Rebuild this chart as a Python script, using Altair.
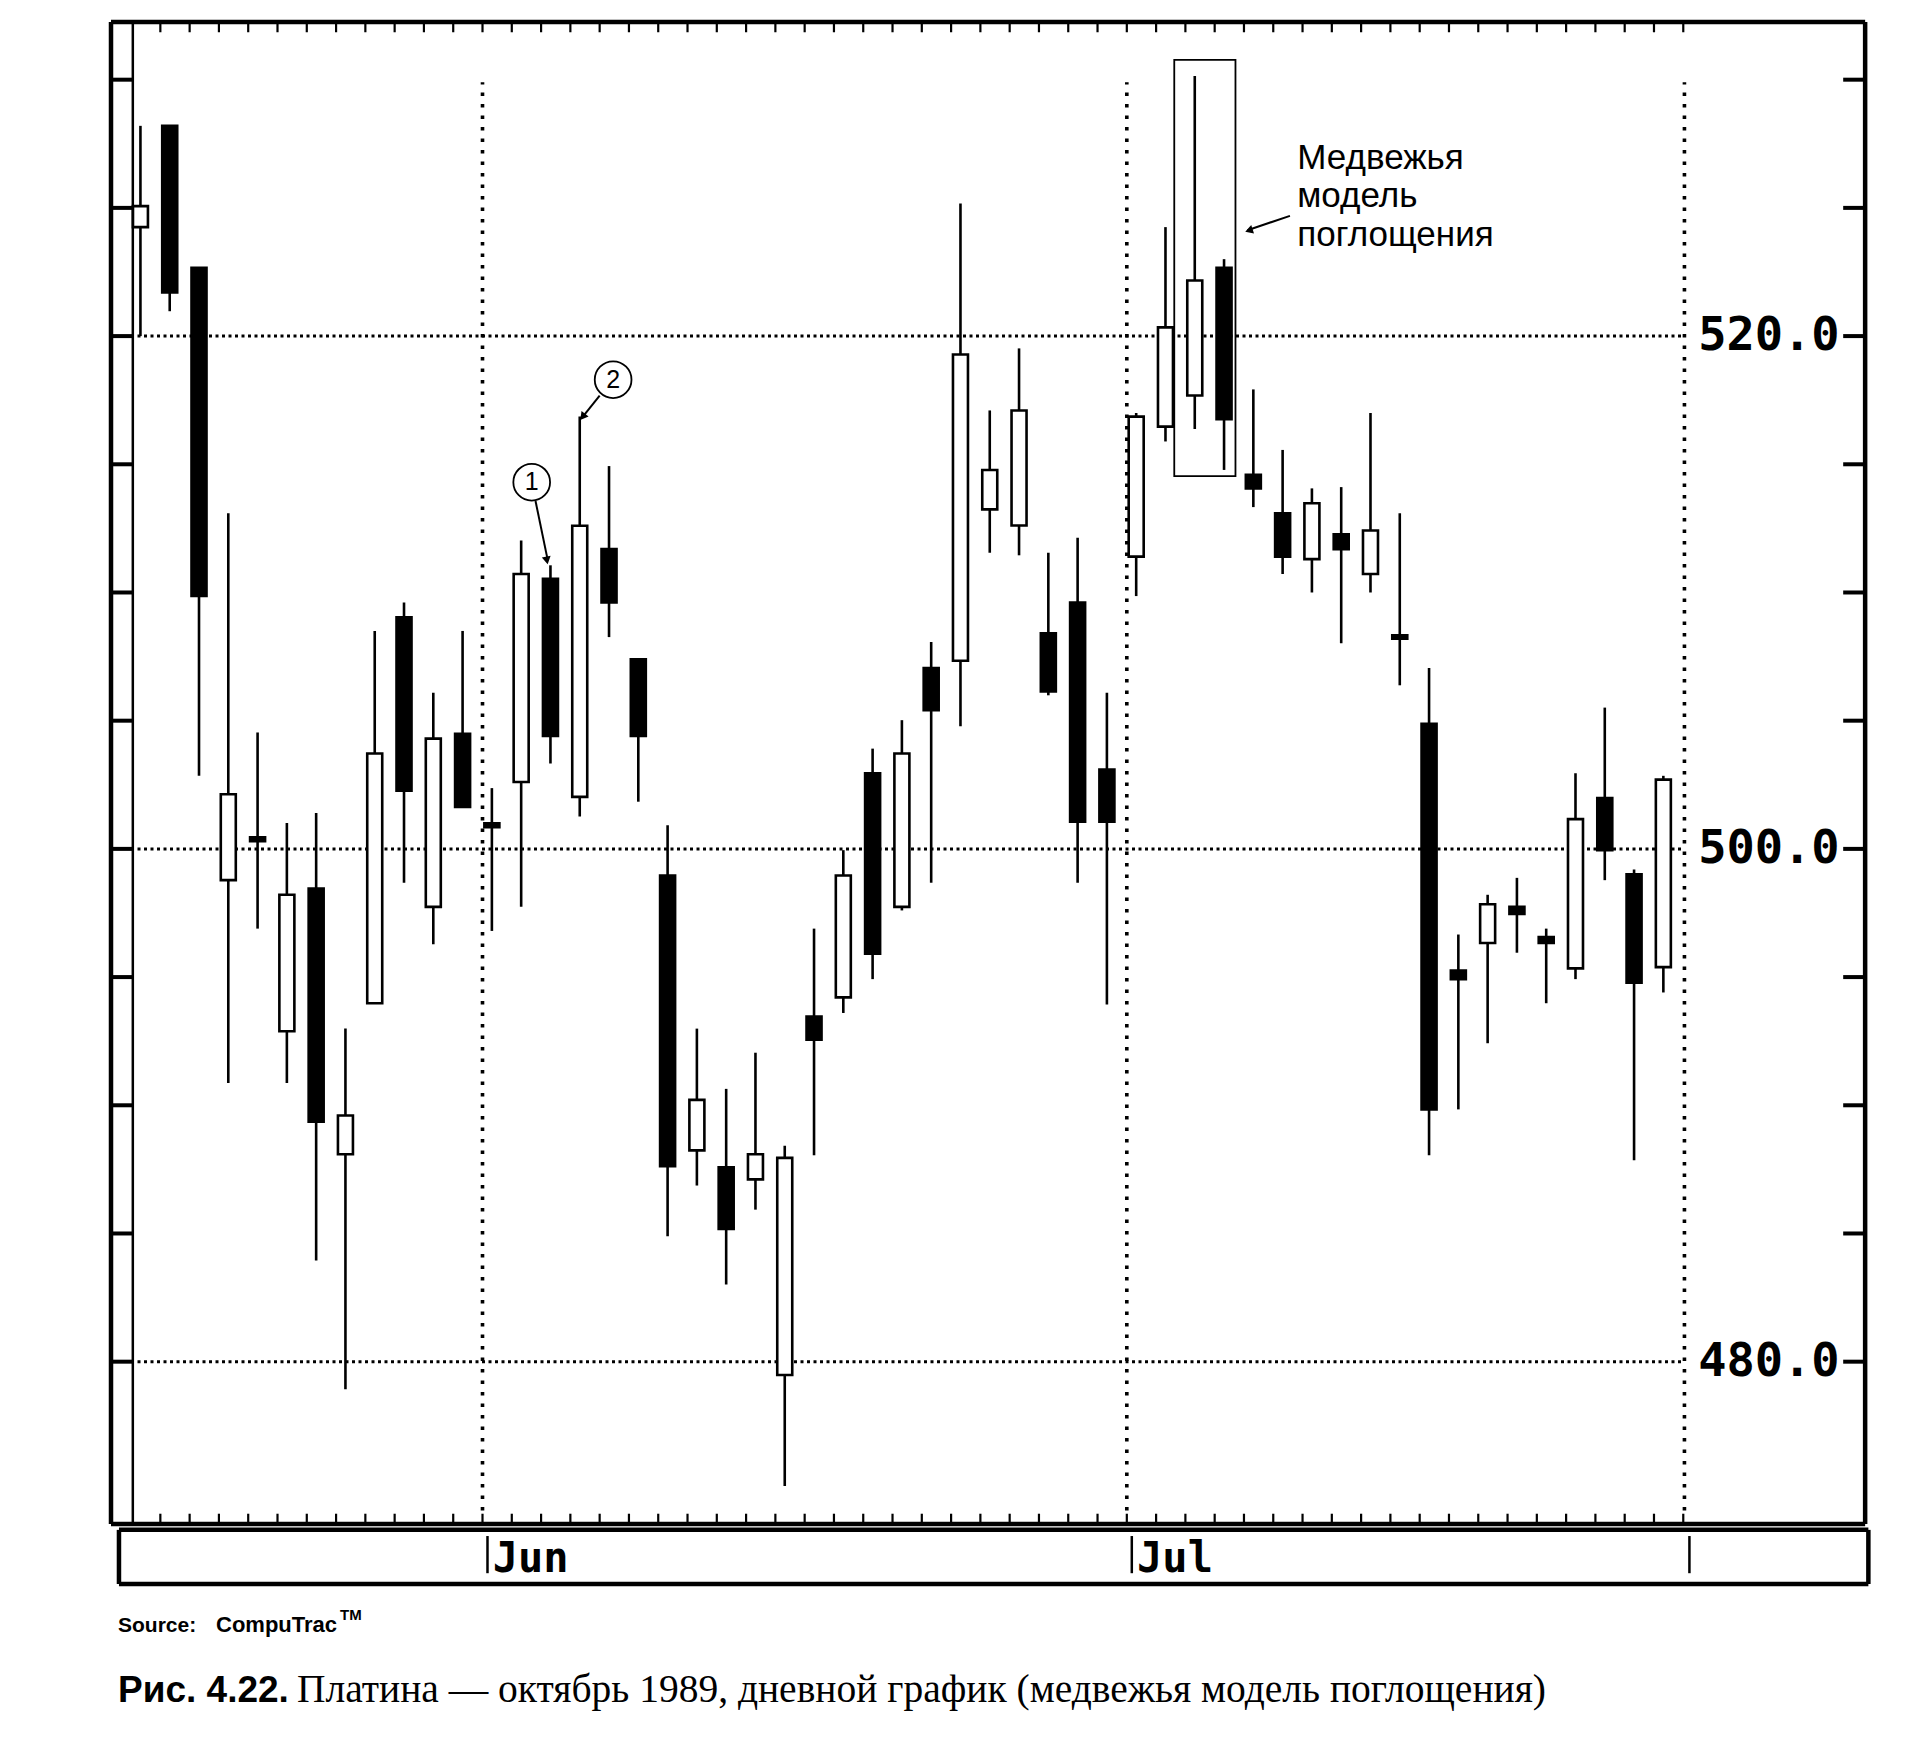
import altair as alt
import pandas as pd

# ---------------- data ----------------
day = list(range(53))
open_ = [524.25, 528.2, 522.66, 498.78, 500.45, 492.89, 498.45, 488.09, 493.98, 509.03,
         497.74, 504.49, 501.0, 502.61, 510.53, 502.03, 511.69, 507.39, 498.96, 488.24,
         487.58, 487.11, 479.48, 493.46, 494.21, 502.95, 497.74, 507.05, 507.34, 513.24,
         512.61, 508.41, 509.61, 503.09, 511.4, 516.47, 517.68, 522.66, 514.59, 513.09,
         511.3, 512.27, 510.72, 508.33, 504.88, 495.25, 496.33, 497.74, 496.56, 495.34,
         501.98, 499.01, 495.39]
high = [528.2, 528.2, 522.66, 513.09, 504.54, 501.01, 501.4, 492.99, 508.5, 509.61,
        506.09, 508.5, 502.37, 512.03, 511.06, 516.86, 514.93, 507.39, 500.92, 492.99,
        490.64, 492.05, 488.42, 496.89, 499.95, 503.91, 505.02, 508.07, 525.17, 517.1,
        519.52, 511.55, 512.13, 506.09, 517.0, 524.25, 530.14, 523.0, 517.92, 515.56,
        514.06, 514.11, 517.0, 513.09, 507.05, 496.66, 498.21, 498.87, 496.89, 502.95,
        505.51, 499.2, 502.85]
low = [520.0, 520.97, 502.85, 490.87, 496.89, 490.87, 483.95, 478.92, 493.98, 498.68,
       496.28, 501.64, 496.8, 497.74, 503.33, 501.26, 508.26, 501.84, 484.89, 486.87,
       483.01, 485.93, 475.15, 488.05, 493.6, 494.92, 497.6, 498.68, 504.78, 511.55,
       511.45, 505.99, 498.68, 493.93, 509.86, 515.89, 516.38, 514.78, 513.33, 510.72,
       510.0, 508.02, 510.0, 506.38, 488.05, 489.84, 492.42, 495.95, 493.98, 494.92,
       498.78, 487.86, 494.4]
close = [525.07, 521.7, 509.86, 502.13, 500.3, 498.21, 489.36, 489.6, 503.72, 502.27,
         504.3, 501.64, 500.85, 510.72, 504.4, 512.6, 509.61, 504.4, 487.62, 490.21,
         485.18, 488.09, 487.95, 492.56, 498.96, 495.91, 503.72, 505.41, 519.28, 514.78,
         517.1, 506.14, 501.06, 501.06, 516.86, 520.34, 522.17, 516.76, 514.06, 511.4,
         513.48, 511.69, 512.42, 508.2, 489.84, 494.92, 497.84, 497.46, 496.33, 501.16,
         499.95, 494.78, 502.7]

grid_prices = [480, 500, 520]
scale_ticks = [480, 485, 490, 495, 500, 505, 510, 515, 520, 525, 530]
month_names = ["Jun", "Jul", ""]
month_pos = [11.68, 33.68, 52.72]

# ---------------- layout helpers ----------------
X_LEFT, X_RIGHT = -1.005, 59.09
Y_BOT, Y_TOP = 471.29, 532.25
PLOT_BOTTOM = 473.67
PLOT_RIGHT = 58.89
W, H = 1770, 1563

xs = alt.Scale(domain=[X_LEFT, X_RIGHT], nice=False, zero=False)
ys = alt.Scale(domain=[Y_BOT, Y_TOP], nice=False, zero=False)

df = pd.DataFrame({"day": day, "open": open_, "high": high, "low": low, "close": close})
df["dir"] = ["up" if c > o else "down" for o, c in zip(open_, close)]


def X(f):
    return alt.X(f, type="quantitative", scale=xs, axis=None)


def Y(f):
    return alt.Y(f, type="quantitative", scale=ys, axis=None)


def segs(rows):
    return pd.DataFrame(rows, columns=["x", "x2", "y", "y2"])


def rules(rows, **kw):
    return alt.Chart(segs(rows)).mark_rule(color="black", **kw).encode(
        x=X("x"), x2="x2", y=Y("y"), y2="y2")


base = alt.Chart(df)

# horizontal dotted grid lines
grid = rules([(-0.1, 52.7, p, p) for p in grid_prices], strokeWidth=3, strokeDash=[3, 3.5])
# vertical dotted month lines
vgrid = rules([(m, m, 474.2, 529.9) for m in month_pos], strokeWidth=3.6, strokeDash=[3.5, 8])

# frame
frame = rules([
    (X_LEFT, X_LEFT, PLOT_BOTTOM, Y_TOP),
    (X_LEFT, PLOT_RIGHT, Y_TOP, Y_TOP),
    (PLOT_RIGHT, PLOT_RIGHT, PLOT_BOTTOM, Y_TOP),
    (X_LEFT, PLOT_RIGHT, PLOT_BOTTOM, PLOT_BOTTOM),
    (-0.733, -0.733, 471.33, 473.44),
    (-0.733, 59.0, 473.44, 473.44),
    (-0.733, 59.0, 471.33, 471.33),
    (59.0, 59.0, 471.33, 473.44),
], strokeWidth=4.5)
inner = rules([(-0.26, -0.26, PLOT_BOTTOM, Y_TOP)], strokeWidth=2.5)
left_ticks = rules([(X_LEFT, -0.26, p, p) for p in scale_ticks], strokeWidth=4)
right_ticks = rules([(58.14, PLOT_RIGHT, p, p) for p in scale_ticks], strokeWidth=4)
top_ticks = rules([(k - 0.32, k - 0.32, Y_TOP - 0.4, Y_TOP) for k in range(1, 54)], strokeWidth=2.2)
bot_ticks = rules([(k - 0.32, k - 0.32, PLOT_BOTTOM, PLOT_BOTTOM + 0.4) for k in range(1, 54)], strokeWidth=2.2)
month_bars = rules([(m + 0.17, m + 0.17, 471.75, 473.2) for m in month_pos], strokeWidth=2.5)

month_df = pd.DataFrame({"x": [m + 0.35 for m in month_pos], "name": month_names, "y": [472.3] * 3})
month_text = alt.Chart(month_df).mark_text(
    align="left", baseline="middle", font="DejaVu Sans Mono", fontWeight="bold", fontSize=42
).encode(x=X("x"), y=Y("y"), text="name:N")

price_df = pd.DataFrame({"price": grid_prices, "x": [58.02] * 3})
price_text = alt.Chart(price_df).mark_text(
    align="right", baseline="middle", font="DejaVu Sans Mono", fontWeight="bold", fontSize=47
).encode(x=X("x"), y=Y("price"), text=alt.Text("price:Q", format=".1f"))

# candles
wicks = base.mark_rule(color="black", strokeWidth=2.6).encode(x=X("day"), y=Y("low"), y2="high")
bodies = base.mark_bar(size=15, stroke="black", strokeWidth=2.6).encode(
    x=X("day"), y=Y("open"), y2="close",
    fill=alt.Fill("dir:N", scale=alt.Scale(domain=["up", "down"], range=["white", "black"]), legend=None))

# engulfing box
box_df = pd.DataFrame({"x": [35.3], "x2": [37.39], "y": [514.54], "y2": [530.77]})
box = alt.Chart(box_df).mark_rect(fillOpacity=0, stroke="black", strokeWidth=1.8).encode(
    x=X("x"), x2="x2", y=Y("y"), y2="y2")

# arrows
arrows = rules([(13.49, 13.9, 513.57, 511.3), (15.68, 15.1, 517.68, 516.85), (39.25, 37.8, 524.69, 524.13)],
               strokeWidth=2)
head_df = pd.DataFrame({"x": [13.88, 15.1, 37.85], "y": [511.25, 516.85, 524.12], "ang": [349, 38, 72]})
heads = alt.Chart(head_df).mark_point(shape="triangle-down", filled=True, color="black", size=80, opacity=1).encode(
    x=X("x"), y=Y("y"), angle=alt.Angle("ang:Q", scale=None))

circ_df = pd.DataFrame({"x": [13.36, 16.14], "y": [514.3, 518.3], "t": ["1", "2"]})
circles = alt.Chart(circ_df).mark_point(shape="circle", size=1350, filled=False, color="black",
                                         strokeWidth=1.8, opacity=1).encode(x=X("x"), y=Y("y"))
circ_text = alt.Chart(circ_df).mark_text(font="Liberation Sans", fontSize=25, baseline="middle").encode(
    x=X("x"), y=Y("y"), text="t:N")

ann_df = pd.DataFrame({"x": [39.5] * 3, "y": [526.96, 525.46, 523.96],
                       "t": ["Медвежья", "модель", "поглощения"]})
ann = alt.Chart(ann_df).mark_text(align="left", baseline="middle", font="Liberation Sans", fontSize=35).encode(
    x=X("x"), y=Y("y"), text="t:N")

# outside texts
one = pd.DataFrame({"a": [0]})
src1 = alt.Chart(one).mark_text(text="Source:", align="left", baseline="alphabetic",
                                font="Liberation Sans", fontWeight="bold", fontSize=21).encode(
    x=alt.value(12), y=alt.value(1610))
src2 = alt.Chart(one).mark_text(text="CompuTrac", align="left", baseline="alphabetic",
                                font="Liberation Sans", fontWeight="bold", fontSize=22).encode(
    x=alt.value(110), y=alt.value(1610))
src3 = alt.Chart(one).mark_text(text="TM", align="left", baseline="alphabetic",
                                font="Liberation Sans", fontWeight="bold", fontSize=15).encode(
    x=alt.value(234), y=alt.value(1598))
cap1 = alt.Chart(one).mark_text(text="Рис. 4.22.", align="left", baseline="alphabetic",
                                font="Liberation Sans", fontWeight="bold", fontSize=37).encode(
    x=alt.value(12), y=alt.value(1680))
cap2 = alt.Chart(one).mark_text(text="Платина — октябрь 1989, дневной график (медвежья модель поглощения)",
                                align="left", baseline="alphabetic",
                                font="Liberation Serif", fontSize=39.5).encode(
    x=alt.value(191), y=alt.value(1680))

chart = alt.layer(
    grid, vgrid, wicks, bodies, box, frame, inner, left_ticks, right_ticks, top_ticks, bot_ticks,
    month_bars, month_text, price_text, arrows, heads, circles, circ_text, ann,
    src1, src2, src3, cap1, cap2
).properties(
    width=W, height=H, autosize="none",
    padding={"left": 98, "top": 14, "right": 31, "bottom": 150}
).configure_view(stroke=None)

chart.save("out.html", embed_options={"renderer": "svg", "actions": False})
